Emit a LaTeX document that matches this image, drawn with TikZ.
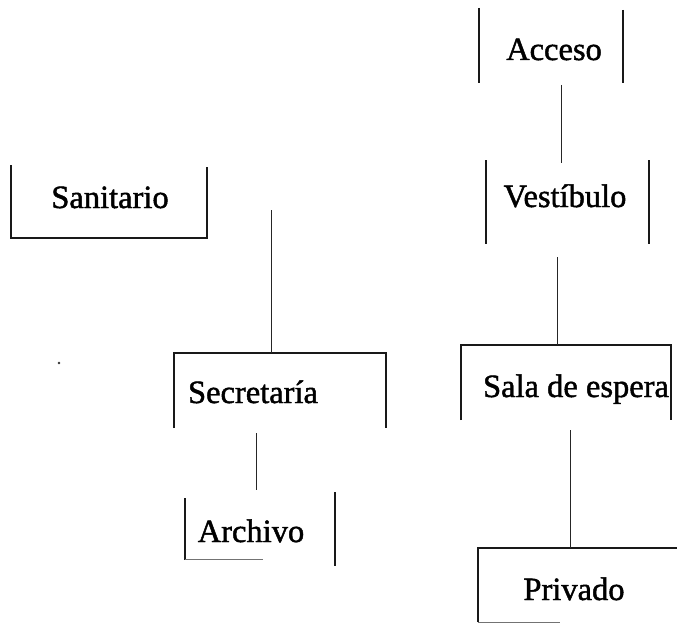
\documentclass[tikz,border=0pt]{standalone}
\usepackage{fontspec}
\setmainfont{Liberation Serif}
\newfontfamily\lblfont{Liberation Serif}[FakeBold=1.4]
\begin{document}
\begin{tikzpicture}[x=1pt,y=-1pt,
  lbl/.style={anchor=base,inner sep=0pt,font=\lblfont\fontsize{32.5}{36}\selectfont},
  area/.style={inner sep=0pt,outer sep=0pt,draw=none},
  side/.style={line width=1.1pt,black!90},
  faint/.style={line width=0.8pt,black!55},
  link/.style={line width=1pt,black!85}]
\useasboundingbox (0,0) rectangle (677,623);

% room areas (invisible), sides drawn below
\node[area,minimum width=196pt,minimum height=73pt] (sanB) at (109,201.5) {};
\node[area,minimum width=144pt,minimum height=75pt] (accB) at (551,45.5) {};
\node[area,minimum width=163pt,minimum height=84pt] (vesB) at (567.5,202) {};
\node[area,minimum width=212pt,minimum height=75pt] (secB) at (280,390.5) {};
\node[area,minimum width=150pt,minimum height=74pt] (arcB) at (260,529) {};
\node[area,minimum width=210pt,minimum height=75pt] (salB) at (566,382.5) {};
\node[area,minimum width=199pt,minimum height=74pt] (priB) at (577.5,585) {};

% labels
\node[lbl] (san) at (110,208) {Sanitario};
\node[lbl] (acc) at (554,60) {Acceso};
\node[lbl] (ves) at (565,207) {Vestíbulo};
\node[lbl] (sec) at (253,403) {Secretaría};
\node[lbl] (arc) at (251,542) {Archivo};
\node[lbl] (sal) at (576,397) {Sala de espera};
\node[lbl] (pri) at (574,600) {Privado};

% box sides
\draw[side] (sanB.north west) -- (sanB.south west) -- (sanB.south east) -- ([yshift=-2pt]sanB.north east);
\draw[side] (accB.north west) -- (accB.south west);
\draw[side] ([yshift=-2pt]accB.north east) -- (accB.south east);
\draw[side] (vesB.north west) -- (vesB.south west);
\draw[side] (vesB.north east) -- (vesB.south east);
\draw[side] (secB.south west) -- (secB.north west) -- (secB.north east) -- (secB.south east);
\draw[side] ([yshift=-6pt]arcB.north west) -- ([yshift=6pt]arcB.south west);
\draw[side] (arcB.north east) -- (arcB.south east);
\draw[faint] ([yshift=7pt]arcB.south west) -- ([xshift=78pt,yshift=7pt]arcB.south west);
\draw[side] (salB.south west) -- (salB.north west) -- (salB.north east) -- (salB.south east);
\draw[side] (priB.south west) -- (priB.north west) -- (priB.north east);
\draw[faint] (priB.south west) -- ([xshift=82pt]priB.south west);

% connectors
\coordinate (secT) at (271,353);
\coordinate (secUp) at (271,210);
\draw[link] (secT) -- (secUp);
\coordinate (secD) at (256,433);
\coordinate (arcT) at (256,490);
\draw[link] (secD) -- (arcT);
\coordinate (accD) at (561,85);
\coordinate (vesT) at (561,163);
\draw[link] (accD) -- (vesT);
\coordinate (vesD) at (557,257);
\coordinate (salT) at (557,345);
\draw[link] (vesD) -- (salT);
\coordinate (salD) at (570,430);
\coordinate (priT) at (570,548);
\draw[link] (salD) -- (priT);

% speck
\fill[black!80] (59,363) circle (1.3pt);
\end{tikzpicture}
\end{document}
